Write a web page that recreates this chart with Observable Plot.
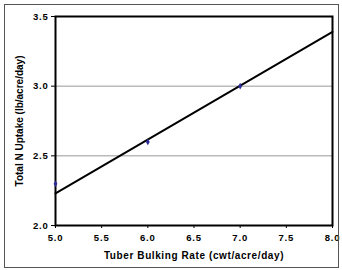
<!DOCTYPE html>
<html><head><meta charset="utf-8">
<script src="https://cdn.jsdelivr.net/npm/d3@7"></script>
<script src="https://cdn.jsdelivr.net/npm/@observablehq/plot@0.6"></script>
<style>
html,body{margin:0;padding:0;background:#fff;}
#wrap{position:relative;width:342px;height:270px;}
#border{position:absolute;left:4px;top:4px;width:333px;height:262px;border:1px solid #555;pointer-events:none;}
g[aria-label="x-axis tick label"] text, g[aria-label="y-axis tick label"] text {letter-spacing:0.8px;}
g[aria-label="x-axis label"] text {letter-spacing:0.6px;}
</style>
</head><body>
<div id="wrap"><div id="border"></div></div>
<script>
const pointX = [5, 6, 7];
const pointY = [2.3, 2.6, 3.0];
const fitX = [5, 8];
const fitY = [2.23, 3.39];
const xTicks = [5.0, 5.5, 6.0, 6.5, 7.0, 7.5, 8.0];
const yTicks = [2.0, 2.5, 3.0, 3.5];
const gridY = [2.5, 3.0];
const xLabel = "Tuber Bulking Rate (cwt/acre/day)";
const yLabel = "Total N Uptake (lb/acre/day)";

const points = pointX.map((x, i) => ({x, y: pointY[i]}));
const fit = fitX.map((x, i) => ({x, y: fitY[i]}));

const chart = Plot.plot({
  width: 342, height: 270,
  marginLeft: 55, marginRight: 10, marginTop: 16, marginBottom: 45,
  style: {fontFamily: "Liberation Sans, Arial, sans-serif", fontSize: "9.5px", fontWeight: "bold", color: "#000", background: "transparent"},
  x: {domain: [5, 8]},
  y: {domain: [2, 3.5]},
  marks: [
    Plot.ruleY(gridY, {stroke: "#999", strokeWidth: 1}),
    Plot.frame({stroke: "#000", strokeWidth: 2}),
    Plot.axisY({ticks: yTicks, tickFormat: d => d.toFixed(1), tickSize: 4, tickPadding: 3, stroke: "#000", strokeOpacity: 1, label: null}),
    Plot.axisY({ticks: [], label: yLabel, labelAnchor: "center", labelArrow: "none", labelOffset: 40, fontSize: 10}),
    Plot.axisX({ticks: xTicks, tickFormat: d => d.toFixed(1), tickSize: 3, tickPadding: 6, stroke: "#000", strokeOpacity: 1, label: null}),
    Plot.axisX({ticks: [], label: xLabel, labelAnchor: "center", labelArrow: "none", labelOffset: 33, fontSize: 10}),
    Plot.line(fit, {x: "x", y: "y", stroke: "#000", strokeWidth: 2}),
    Plot.dot(points, {x: "x", y: "y", symbol: "diamond", r: 2, fill: "#2b2b9a", stroke: "none"})
  ]
});
document.getElementById("wrap").prepend(chart);
</script>
</body></html>
